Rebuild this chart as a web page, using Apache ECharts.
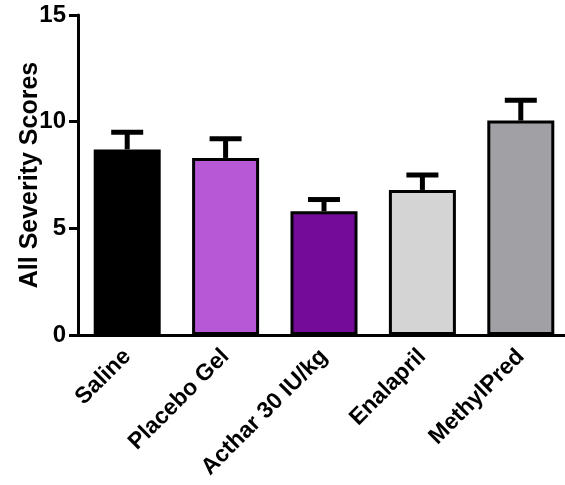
<!DOCTYPE html>
<html><head><meta charset="utf-8">
<script src="https://cdn.jsdelivr.net/npm/echarts@6/dist/echarts.min.js"></script>
<style>html,body{margin:0;padding:0;background:#fff}#c{width:565px;height:485px}</style>
</head><body><div id="c"></div>
<script>
var categories = ['Saline', 'Placebo Gel', 'Acthar 30 IU/kg', 'Enalapril', 'MethylPred'];
var means = [8.7, 8.3, 5.8, 6.8, 10.05];
var errUpper = [9.5, 9.2, 6.35, 7.5, 11.0];
var barColors = ['#000000', '#b759d6', '#750b99', '#d4d4d4', '#a1a1a5'];
var yTicks = [0, 5, 10, 15];

var chart = echarts.init(document.getElementById('c'), null, {renderer: 'canvas'});
var font = 'Liberation Sans, Arial, sans-serif';
chart.setOption({
  animation: false,
  grid: {left: 78, top: 15, width: 492, height: 320, outerBoundsMode: 'none', containLabel: false},
  xAxis: {
    type: 'category', data: categories,
    axisLine: {lineStyle: {color: '#000', width: 3}},
    axisTick: {alignWithLabel: true, length: 8, lineStyle: {color: '#000', width: 3}},
    axisLabel: {rotate: 45, color: '#000', fontWeight: 'bold', fontSize: 23, fontFamily: font, margin: 18, interval: 0}
  },
  yAxis: {
    type: 'value', min: 0, max: 15, interval: 5,
    name: 'All Severity Scores', nameLocation: 'middle', nameGap: 35, nameMoveOverlap: false,
    nameTextStyle: {color: '#000', fontWeight: 'bold', fontSize: 25, fontFamily: font},
    splitLine: {show: false},
    axisLine: {show: true, lineStyle: {color: '#000', width: 3}},
    axisTick: {show: true, length: 9, lineStyle: {color: '#000', width: 3}},
    axisLabel: {color: '#000', fontWeight: 'bold', fontSize: 24, fontFamily: font, margin: 12,
      formatter: function (v) { return yTicks.indexOf(v) >= 0 ? String(v) : ''; }}
  },
  series: [{
    type: 'bar', barWidth: 67,
    data: means.map(function (v, i) {
      return {value: v, itemStyle: {color: barColors[i], borderColor: '#000', borderWidth: 3}};
    }),
    z: 2
  }, {
    type: 'custom', z: 3,
    data: means.map(function (v, i) { return [i, v, errUpper[i]]; }),
    renderItem: function (params, api) {
      var base = api.coord([api.value(0), api.value(1)]);
      var top = api.coord([api.value(0), api.value(2)]);
      var hw = 16;
      return {type: 'group', children: [
        {type: 'line', shape: {x1: base[0], y1: base[1], x2: top[0], y2: top[1]}, style: {stroke: '#000', lineWidth: 5}},
        {type: 'line', shape: {x1: top[0] - hw, y1: top[1], x2: top[0] + hw, y2: top[1]}, style: {stroke: '#000', lineWidth: 5}}
      ]};
    }
  }]
});
</script></body></html>
